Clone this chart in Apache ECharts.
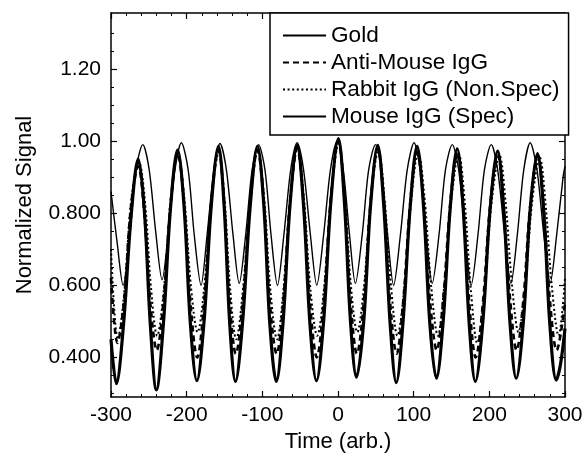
<!DOCTYPE html>
<html><head><meta charset="utf-8">
<script src="https://cdn.jsdelivr.net/npm/echarts@6/dist/echarts.min.js"></script>
<style>html,body{margin:0;padding:0;background:#fff}#chart{width:587px;height:462px}</style>
</head><body><div id="chart"></div>
<script>
const seriesNames = ['Gold', 'Anti-Mouse IgG', 'Rabbit IgG (Non.Spec)', 'Mouse IgG (Spec)'];

const goldData = [[-300,0.86],[-292,0.72],[-284,0.60],[-275,0.74],[-267,0.92],[-258,0.99],[-249.5,0.92],[-241,0.75],[-232.5,0.615],[-224,0.75],[-215.5,0.92],[-207,0.995],[-198,0.92],[-190,0.74],[-181,0.60],[-173,0.74],[-164,0.92],[-156,0.993],[-147.5,0.92],[-139,0.745],[-130.5,0.605],[-122,0.74],[-113.5,0.92],[-105,0.99],[-96.5,0.92],[-88.5,0.74],[-80,0.60],[-71.5,0.74],[-62.5,0.92],[-54,0.995],[-45.5,0.92],[-36.5,0.74],[-28,0.60],[-19,0.74],[-10,0.92],[-1,1.0],[7,0.92],[15,0.745],[23,0.605],[32,0.74],[40.5,0.92],[49.5,0.99],[57.5,0.92],[65.5,0.74],[73.5,0.60],[82.5,0.74],[91.5,0.92],[100.5,0.995],[108.5,0.92],[116.5,0.745],[124.5,0.605],[133.5,0.74],[142,0.92],[151,0.99],[159.5,0.92],[168,0.74],[176,0.60],[185,0.74],[193.5,0.92],[202.5,0.99],[211,0.92],[220,0.745],[228.5,0.605],[237,0.74],[245.5,0.92],[254,0.995],[263,0.92],[272,0.74],[280.5,0.607],[289,0.74],[297.5,0.90],[300,0.93]];

const antiMouseData = [[-300,0.62],[-291.5,0.44],[-283,0.55],[-273.5,0.82],[-264,0.93],[-256,0.80],[-248,0.55],[-239.5,0.42],[-230.5,0.56],[-221.5,0.82],[-212,0.965],[-203.5,0.83],[-195,0.55],[-186,0.40],[-177,0.55],[-167.5,0.83],[-158,0.975],[-150.5,0.83],[-143,0.55],[-135,0.41],[-126,0.55],[-116,0.83],[-106.5,0.975],[-98,0.83],[-90,0.55],[-81,0.41],[-72.5,0.55],[-63.5,0.83],[-54,0.98],[-45.5,0.83],[-37,0.55],[-28,0.40],[-19,0.55],[-9.5,0.84],[0.5,1.0],[8.5,0.84],[16.5,0.56],[25,0.41],[34,0.55],[43,0.83],[52.5,0.98],[60.5,0.83],[69,0.55],[77.5,0.41],[86,0.55],[95.5,0.83],[104.5,0.975],[113,0.83],[121.5,0.56],[130.5,0.42],[139,0.56],[148.5,0.83],[157.5,0.97],[165.5,0.82],[173.5,0.55],[182,0.40],[191.5,0.55],[201,0.82],[211,0.965],[219,0.82],[227.5,0.56],[236,0.42],[245,0.56],[254,0.82],[264,0.96],[272,0.81],[280,0.56],[289,0.42],[300,0.55]];

const rabbitData = [[-300,0.70],[-291,0.45],[-282.5,0.58],[-273,0.84],[-263,0.94],[-255,0.83],[-247,0.59],[-239,0.46],[-230,0.59],[-221,0.84],[-211.5,0.965],[-203,0.84],[-194.5,0.60],[-185.5,0.47],[-176.5,0.60],[-167,0.84],[-157.5,0.97],[-150,0.84],[-142.5,0.59],[-134.5,0.45],[-125.5,0.59],[-115.5,0.84],[-106,0.975],[-97.5,0.84],[-89.5,0.59],[-80.5,0.45],[-72,0.59],[-63,0.84],[-53.5,0.98],[-45,0.84],[-36.5,0.59],[-27.5,0.46],[-18.5,0.59],[-9,0.85],[1,0.995],[9,0.85],[17,0.60],[25.5,0.47],[34.5,0.60],[43.5,0.84],[53.5,0.975],[61.5,0.84],[70,0.60],[78.5,0.46],[87.5,0.59],[97,0.84],[106,0.97],[114.5,0.84],[123,0.60],[132,0.46],[140.5,0.60],[150,0.84],[159.5,0.965],[167.5,0.83],[175.5,0.59],[184,0.44],[193.5,0.58],[203,0.83],[213.5,0.96],[221.5,0.83],[230,0.60],[238.5,0.47],[247.5,0.60],[256.5,0.83],[266.5,0.955],[274.5,0.82],[282.5,0.60],[291.5,0.46],[300,0.62]];

const mouseData = [[-300,0.45],[-293,0.327],[-283.5,0.49],[-273.5,0.79],[-264,0.95],[-256,0.81],[-248,0.49],[-240,0.31],[-230.5,0.50],[-221.5,0.81],[-212,0.975],[-203.5,0.82],[-195,0.49],[-186.5,0.335],[-177,0.50],[-167.5,0.82],[-158,0.985],[-150.5,0.82],[-143,0.49],[-135.5,0.333],[-126,0.50],[-116,0.82],[-106.5,0.985],[-98,0.82],[-90,0.49],[-81.5,0.333],[-72.5,0.50],[-63.5,0.82],[-54,0.988],[-45.5,0.82],[-37,0.49],[-28.5,0.335],[-19,0.50],[-9.5,0.83],[0.5,1.007],[8.5,0.83],[16.5,0.50],[24.5,0.345],[34,0.50],[43,0.82],[52.5,0.988],[60.5,0.82],[69,0.49],[77,0.33],[86,0.50],[95.5,0.82],[104.5,0.985],[113,0.82],[121.5,0.49],[130,0.342],[139,0.50],[148.5,0.82],[157.5,0.978],[165.5,0.81],[173.5,0.49],[181.5,0.333],[191.5,0.50],[201,0.81],[211,0.972],[219,0.81],[227.5,0.49],[235.5,0.342],[245,0.50],[254,0.81],[263.5,0.965],[272,0.80],[280,0.49],[288.5,0.337],[294,0.38],[300,0.48]];

const xTickValues = [-300, -200, -100, 0, 100, 200, 300];
const yTickValues = [0.4, 0.6, 0.8, 1.0, 1.2];
const yTickLabels = ['0.400', '0.600', '0.800', '1.00', '1.20'];
const yMinorValues = [0.30, 0.35, 0.45, 0.50, 0.55, 0.65, 0.70, 0.75, 0.85, 0.90, 0.95, 1.05, 1.10, 1.15, 1.25, 1.30];

const FONT = '"Liberation Sans", Arial, Helvetica, sans-serif';
const BLACK = '#000';
const X_MIN = -300, X_MAX = 300, Y_MIN = 0.29, Y_MAX = 1.355;

const chart = echarts.init(document.getElementById('chart'), null, { renderer: 'canvas' });

function yFmt(v) {
  const i = yTickValues.findIndex(t => Math.abs(t - v) < 1e-6);
  return i >= 0 ? yTickLabels[i] : '';
}

const baseX = {
  type: 'value', min: X_MIN, max: X_MAX, interval: 100,
  splitLine: { show: false },
  axisLine: { show: true, onZero: false, lineStyle: { color: BLACK, width: 1.5 } },
  axisTick: { show: true, inside: true, length: 6, lineStyle: { color: BLACK, width: 1.2 } },
  minorTick: { show: true, splitNumber: 5, length: 3, lineStyle: { color: BLACK, width: 1 } },
  minorSplitLine: { show: false }
};

const option = {
  animation: false,
  backgroundColor: '#fff',
  grid: { left: 111, right: 22, top: 13, bottom: 65, containLabel: false, outerBoundsMode: 'none' },
  legend: {
    orient: 'vertical', left: 270, top: 13,
    padding: [11, 9, 7, 12],
    itemGap: 4, itemWidth: 43, itemHeight: 14,
    borderColor: BLACK, borderWidth: 1.5, borderRadius: 0,
    backgroundColor: '#fff',
    itemStyle: { color: 'rgba(0,0,0,0)', borderColor: 'rgba(0,0,0,0)', borderWidth: 0, opacity: 0 },
    textStyle: { color: BLACK, fontSize: 22.6, fontFamily: FONT },
    data: seriesNames
  },
  xAxis: [
    Object.assign({}, baseX, {
      position: 'bottom',
      axisLabel: {
        show: true, color: BLACK, fontSize: 21, fontFamily: FONT, margin: 8,
        customValues: xTickValues, formatter: v => String(v)
      },
      name: 'Time (arb.)', nameLocation: 'middle', nameGap: 33,
      nameTextStyle: { color: BLACK, fontSize: 22, fontFamily: FONT }
    }),
    Object.assign({}, baseX, { position: 'top', axisLabel: { show: false } })
  ],
  yAxis: [
    {
      type: 'value', min: Y_MIN, max: Y_MAX, position: 'left',
      splitLine: { show: false },
      axisLine: { show: true, onZero: false, lineStyle: { color: BLACK, width: 1.5 } },
      axisTick: { show: true, inside: true, length: 6, customValues: yTickValues, lineStyle: { color: BLACK, width: 1.2 } },
      axisLabel: { show: true, customValues: yTickValues, formatter: yFmt, color: BLACK, fontSize: 21, fontFamily: FONT, margin: 10 },
      name: 'Normalized Signal', nameLocation: 'middle', nameGap: 75,
      nameTextStyle: { color: BLACK, fontSize: 22, fontFamily: FONT }
    },
    {
      type: 'value', min: Y_MIN, max: Y_MAX, position: 'left',
      splitLine: { show: false },
      axisLine: { show: false, onZero: false },
      axisTick: { show: true, inside: true, length: 3, customValues: yMinorValues, lineStyle: { color: BLACK, width: 1 } },
      axisLabel: { show: false }
    },
    {
      type: 'value', min: Y_MIN, max: Y_MAX, position: 'right',
      splitLine: { show: false },
      axisLine: { show: true, onZero: false, lineStyle: { color: BLACK, width: 1.5 } },
      axisTick: { show: true, inside: true, length: 6, customValues: yTickValues, lineStyle: { color: BLACK, width: 1.2 } },
      axisLabel: { show: false }
    },
    {
      type: 'value', min: Y_MIN, max: Y_MAX, position: 'right',
      splitLine: { show: false },
      axisLine: { show: false, onZero: false },
      axisTick: { show: true, inside: true, length: 3, customValues: yMinorValues, lineStyle: { color: BLACK, width: 1 } },
      axisLabel: { show: false }
    }
  ],
  series: [
    { name: seriesNames[0], type: 'line', data: goldData, xAxisIndex: 0, yAxisIndex: 0,
      symbol: 'none', showSymbol: false, smooth: 0.3, color: BLACK,
      lineStyle: { color: BLACK, width: 1.4, type: 'solid' }, z: 3 },
    { name: seriesNames[1], type: 'line', data: antiMouseData, xAxisIndex: 0, yAxisIndex: 0,
      symbol: 'none', showSymbol: false, smooth: 0.35, color: BLACK,
      lineStyle: { color: BLACK, width: 2.6, type: [6, 4] }, z: 4 },
    { name: seriesNames[2], type: 'line', data: rabbitData, xAxisIndex: 0, yAxisIndex: 0,
      symbol: 'none', showSymbol: false, smooth: 0.35, color: BLACK,
      lineStyle: { color: BLACK, width: 2, type: [2, 2.6] }, z: 4 },
    { name: seriesNames[3], type: 'line', data: mouseData, xAxisIndex: 0, yAxisIndex: 0,
      symbol: 'none', showSymbol: false, smooth: 0.35, color: BLACK,
      lineStyle: { color: BLACK, width: 3.2, type: 'solid' }, z: 5 }
  ]
};

chart.setOption(option);
</script>
</body></html>
